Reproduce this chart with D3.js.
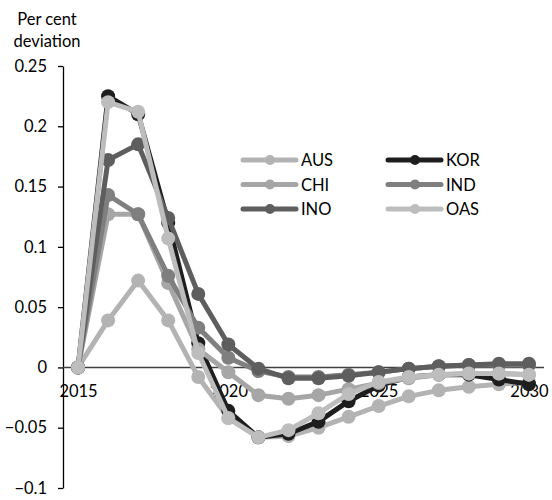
<!DOCTYPE html>
<html>
<head>
<meta charset="utf-8">
<script src="https://cdn.jsdelivr.net/npm/d3@7"></script>
<style>
  html, body { margin: 0; padding: 0; background: #fff; }
  svg text { font-family: Lato, "Open Sans", sans-serif; fill: #000; }
</style>
</head>
<body>
<svg id="chart" width="552" height="500"></svg>
<script>
// Years on the horizontal axis
const years = d3.range(2015, 2031);
const xTickYears = [2015, 2020, 2025, 2030];
const yTicks = [-0.1, -0.05, 0, 0.05, 0.1, 0.15, 0.2, 0.25];

// Per cent deviation by economy
const AUS = [0, 0.039, 0.072, 0.039, -0.008, -0.042, -0.058, -0.057, -0.05, -0.041, -0.032, -0.024, -0.019, -0.016, -0.014, -0.012];
const KOR = [0, 0.225, 0.21, 0.12, 0.02, -0.036, -0.058, -0.055, -0.045, -0.028, -0.015, -0.008, -0.006, -0.006, -0.01, -0.014];
const CHI = [0, 0.127, 0.127, 0.07, 0.015, -0.004, -0.023, -0.026, -0.023, -0.018, -0.013, -0.009, -0.006, -0.005, -0.005, -0.006];
const IND = [0, 0.143, 0.127, 0.076, 0.033, 0.008, -0.003, -0.008, -0.008, -0.006, -0.004, -0.001, 0.001, 0.002, 0.002, 0.002];
const INO = [0, 0.172, 0.185, 0.124, 0.061, 0.019, -0.001, -0.009, -0.009, -0.007, -0.004, -0.001, 0.001, 0.002, 0.003, 0.003];
const OAS = [0, 0.22, 0.212, 0.107, 0.012, -0.042, -0.058, -0.052, -0.038, -0.022, -0.012, -0.008, -0.006, -0.005, -0.005, -0.006];

const seriesNames = ["AUS", "KOR", "CHI", "IND", "INO", "OAS"];
const seriesValues = [AUS, KOR, CHI, IND, INO, OAS];
const seriesColors = ["#b3b3b3", "#1e1e1e", "#a6a6a6", "#7f7f7f", "#5e5e5e", "#bdbdbd"];

const svg = d3.select("#chart");
const plot = { left: 63, right: 544, top: 66, bottom: 488 };

const x = d3.scalePoint().domain(years).range([plot.left, plot.right]).padding(0.5);
const y = d3.scaleLinear().domain([-0.1, 0.25]).range([plot.bottom, plot.top]);

// Y axis with outside ticks
const yAxis = svg.append("g")
  .attr("transform", `translate(${plot.left},0)`)
  .call(d3.axisLeft(y).tickValues(yTicks).tickSize(5).tickSizeOuter(0)
    .tickFormat(d => d3.format("")(+d.toFixed(2))));
yAxis.select(".domain").attr("stroke", "#000").attr("stroke-width", 1.3);
yAxis.selectAll(".tick line").attr("stroke", "#000").attr("stroke-width", 1.3);
yAxis.selectAll(".tick text").attr("x", -16).attr("font-size", 16.5)
  .style("font-family", "Lato, sans-serif");
yAxis.selectAll("text").attr("fill", "#000");

// Zero line serving as the category axis
const xAxis = svg.append("g")
  .attr("transform", `translate(0,${y(0)})`)
  .call(d3.axisBottom(x).tickValues(xTickYears).tickSize(0).tickPadding(18));
xAxis.select(".domain").attr("d", `M${plot.left},0H${plot.right}`)
  .attr("stroke", "#404040").attr("stroke-width", 1.5);
xAxis.selectAll(".tick text").attr("font-size", 16.5).attr("fill", "#000")
  .style("font-family", "Lato, sans-serif");

// Axis title
const title = svg.append("text").attr("text-anchor", "middle").attr("font-size", 16.5);
title.append("tspan").attr("x", 47).attr("y", 25).text("Per cent");
title.append("tspan").attr("x", 47).attr("y", 47).text("deviation");

// Series lines with markers
const line = d3.line().x((d, i) => x(years[i])).y(d => y(d));
seriesValues.forEach((vals, k) => {
  const g = svg.append("g");
  g.append("path").datum(vals)
    .attr("d", line).attr("fill", "none")
    .attr("stroke", seriesColors[k]).attr("stroke-width", 5)
    .attr("stroke-linejoin", "round");
  g.selectAll("circle").data(vals).join("circle")
    .attr("cx", (d, i) => x(years[i])).attr("cy", d => y(d))
    .attr("r", 7).attr("fill", seriesColors[k]);
});

// Legend, two columns
const legend = svg.append("g");
seriesNames.forEach((name, k) => {
  const col = k % 2, row = Math.floor(k / 2);
  const lx = 243 + col * 145, ly = 160 + row * 24.5;
  const g = legend.append("g").attr("transform", `translate(${lx},${ly})`);
  g.append("line").attr("x1", 0).attr("x2", 53).attr("y1", 0).attr("y2", 0)
    .attr("stroke", seriesColors[k]).attr("stroke-width", 5).attr("stroke-linecap", "round");
  g.append("circle").attr("cx", 27).attr("cy", 0).attr("r", 5).attr("fill", seriesColors[k]);
  g.append("text").attr("x", 58).attr("y", 6).attr("font-size", 16.5).text(name);
});
</script>
</body>
</html>
